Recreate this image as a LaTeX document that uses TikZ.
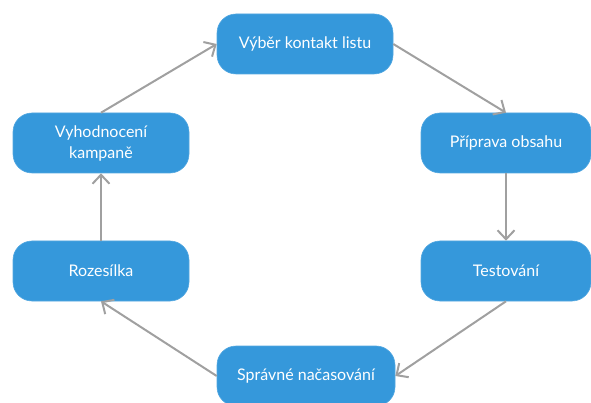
\documentclass[tikz,border=0pt]{standalone}
\usepackage{fontspec}
\setmainfont{Lato}
\usetikzlibrary{arrows.meta}
\definecolor{stepblue}{RGB}{53,152,219}
\definecolor{flowgray}{RGB}{160,160,160}
\begin{document}
\begin{tikzpicture}[x=1pt,y=-1pt,
  stepbox/.style={fill=stepblue, draw=stepblue!85!white, line width=0.6pt,
    rounded corners=19pt, minimum width=176pt, minimum height=60pt,
    text=white, font=\fontsize{16}{21}\selectfont, align=center, inner sep=0pt},
  flow/.style={draw=flowgray, line width=2pt,
    -{Straight Barb[length=9pt,width=17pt,line width=2pt]}}]
  \useasboundingbox (0,0) rectangle (591,403);
  \node[stepbox] (vyber) at (305,44) {Výběr kontakt listu};
  \node[stepbox, minimum width=170pt] (priprava) at (506,143) {Příprava obsahu};
  \node[stepbox, minimum width=170pt] (test) at (506,271) {Testování};
  \node[stepbox, minimum width=178pt] (cas) at (306,376) {Správné načasování};
  \node[stepbox] (rozes) at (101,271) {Rozesílka};
  \node[stepbox] (vyhod) at (101,143) {Vyhodnocení\\kampaně};
  \draw[flow] (vyber.east) -- (priprava.north);
  \draw[flow] (priprava.south) -- (test.north);
  \draw[flow] (test.south) -- (cas.east);
  \draw[flow] (cas.west) -- (rozes.south);
  \draw[flow] (rozes.north) -- (vyhod.south);
  \draw[flow] (vyhod.north) -- (vyber.west);
\end{tikzpicture}
\end{document}
